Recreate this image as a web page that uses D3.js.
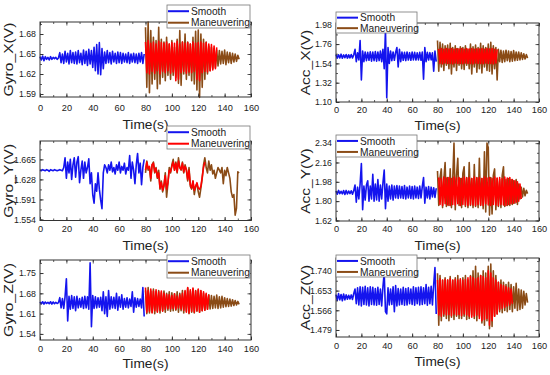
<!DOCTYPE html>
<html><head><meta charset="utf-8">
<script src="https://cdn.jsdelivr.net/npm/d3@7"></script>
<style>
html,body{margin:0;padding:0;background:#fff;}
svg{display:block;font-family:"Liberation Sans",Arial,sans-serif;}
</style></head>
<body><svg id="chart" width="550" height="375"></svg>
<script>
// ---------------- DATA ----------------
const xTicks = [0,20,40,60,80,100,120,140,160];
const seriesNames = ["Smooth","Maneuvering"];

// Gyro_X
const gyroXTicks = [1.59,1.62,1.65,1.68];
const gyroXSmooth = [1.646,1.641,1.647,1.640,1.646,1.642,1.645,1.641,1.646,1.642,1.645,1.643,1.645,1.642,1.644,
1.652,1.637,1.650,1.636,1.654,1.638,1.651,1.635,1.655,1.637,1.652,1.636,1.653,1.635,1.655,1.637,1.651,1.634,1.656,1.636,1.654,1.633,1.657,1.635,1.655,
1.630,1.660,1.625,1.664,1.620,1.667,1.619,1.658,1.628,
1.653,1.636,1.655,1.637,1.652,1.635,1.654,1.638,1.651,1.636,1.653,1.637,1.652,1.636,1.651,1.638,1.650,1.637,1.652,1.636,1.650,1.638,1.651,1.637,1.650,1.636,1.651,1.638,1.652,1.636,1.650];
const gyroXManeuver = [1.690,1.600,1.698,1.592,1.685,1.605,1.675,1.612,1.670,1.598,1.690,1.605,1.672,1.615,1.668,1.610,1.675,1.618,1.665,1.612,
1.670,1.618,1.660,1.615,1.672,1.606,1.685,1.603,1.668,1.620,1.680,1.612,1.668,1.618,1.665,1.610,1.675,1.605,1.684,1.596,
1.686,1.585,1.680,1.600,1.672,1.612,1.668,1.620,1.662,1.625,1.660,1.628,1.658,1.630,1.656,1.632,
1.655,1.635,1.654,1.636,1.656,1.634,1.653,1.637,1.652,1.636,1.651,1.638,1.650,1.639,1.648,1.642];
const gyroXCore = [1.668,1.622,1.670,1.620,1.666,1.624,1.668,1.621,1.665,1.625,1.669,1.620,1.667,1.624,1.666,1.622,1.668,1.625,1.665,1.621,
1.667,1.623,1.666,1.610,1.669,1.612,1.665,1.622,1.668,1.624,1.666,1.621,1.667,1.623,1.665,1.622,1.668,1.624,1.666,1.612,
1.667,1.610,1.668,1.622,1.666,1.624,1.667,1.623,1.665,1.625,1.664,1.626,1.662,1.628,1.660];

// Acc_X
const accXTicks = [1.10,1.32,1.54,1.76,1.98];
const accXSmooth = [1.640,1.600,1.638,1.602,1.645,1.598,1.636,1.604,1.640,1.600,1.637,1.603,1.640,1.601,1.638,
1.700,1.560,1.660,1.580,1.800,1.350,1.680,1.560,1.670,1.570,1.665,1.575,1.672,1.565,1.668,
1.570,1.675,1.565,1.670,1.572,1.680,1.560,1.700,1.480,1.920,1.150,1.720,1.540,1.680,1.570,1.670,1.575,1.665,
1.720,1.500,1.700,1.560,1.668,1.575,1.665,1.572,1.670,1.578,1.662,1.575,1.668,1.580,1.665,1.578,1.660,1.580,1.665,1.575,1.668,1.360,1.720,1.560,1.665,1.578,1.662,1.580,1.660,1.450,1.680,1.560];
const accXManeuver = [1.800,1.450,1.780,1.500,1.760,1.460,1.740,1.520,1.750,1.480,1.770,1.420,1.720,1.500,1.740,1.460,1.710,1.520,1.730,1.480,
1.720,1.470,1.740,1.520,1.700,1.480,1.760,1.420,1.730,1.500,1.750,1.440,1.720,1.480,1.770,1.430,1.740,1.500,1.720,1.460,
1.760,1.450,1.780,1.420,1.740,1.480,1.720,1.350,1.700,1.560,1.690,1.550,1.680,1.560,1.690,1.570,
1.680,1.560,1.675,1.565,1.685,1.570,1.670,1.575,1.668,1.580,1.660,1.585,1.650,1.590,1.640,1.600];
const accXCore = [1.705,1.540,1.710,1.535,1.700,1.545,1.708,1.538,1.702,1.540,1.710,1.535,1.700,1.545,1.706,1.538,1.702,1.540,1.710,1.536,
1.700,1.544,1.708,1.538,1.702,1.540,1.710,1.535,1.700,1.545,1.706,1.538,1.702,1.540,1.710,1.536,1.700,1.544,1.708,1.538,
1.702,1.540,1.710,1.535,1.700,1.545,1.700];

// Gyro_Y
const gyroYTicks = [1.554,1.591,1.628,1.665];
const gyroYSmooth = [1.645,1.644,1.646,1.645,1.644,1.646,1.645,1.643,1.646,1.645,1.644,1.646,1.645,1.644,1.645,1.646,1.645,1.644,
1.650,1.668,1.630,1.660,1.640,1.665,1.628,1.655,1.668,1.632,1.660,1.670,1.622,1.645,1.662,1.630,1.660,1.640,1.650,1.666,1.620,1.640,
1.600,1.584,1.620,1.606,1.640,1.610,1.590,1.574,1.640,1.655,
1.650,1.640,1.655,1.645,1.660,1.642,1.650,1.638,1.655,1.645,1.660,1.640,1.652,1.645,1.658,1.638,1.650,1.645,1.672,1.630,1.660,1.645,1.620,1.655,1.676,1.640,1.658,1.618,1.650,1.665];
const gyroYManeuver = [1.640,1.662,1.645,1.650,1.625,1.655,1.660,1.640,1.650,1.630,1.645,1.610,1.625,1.605,1.615,1.640,1.595,1.620,1.650,1.640,
1.655,1.665,1.645,1.660,1.640,1.668,1.650,1.645,1.660,1.640,1.655,1.645,1.625,1.650,1.615,1.610,1.625,1.600,1.615,1.620,
1.605,1.595,1.612,1.630,1.655,1.668,1.650,1.640,1.662,1.645,1.655,1.638,1.645,1.630,1.640,1.650,
1.645,1.640,1.650,1.620,1.645,1.635,1.650,1.640,1.630,1.605,1.595,1.600,1.562,1.575,1.642,1.640];
const gyroYCore = [1.645,1.660,1.648,1.652,1.630,1.655,1.658,1.642,1.648,1.632,1.640,1.612,1.622,1.608,1.618,1.635,1.610,1.622,1.645,1.642,
1.652,1.660,1.645,1.658,1.642,1.662,1.650,1.646,1.658,1.642,1.652,1.646,1.628,1.645,1.618,1.612,1.625,1.608,1.615,1.622,
1.612,1.610,1.615,1.632,1.650,1.660];

// Acc_Y
const accYTicks = [1.62,1.80,1.98,2.16,2.34];
const accYSmooth = [1.895,1.865,1.900,1.870,1.892,1.868,1.898,1.862,1.900,1.866,1.894,1.870,1.896,1.864,1.898,
1.950,1.790,1.930,1.820,1.960,2.150,1.720,1.940,1.810,1.950,1.990,1.800,1.940,1.820,2.050,
1.800,1.960,1.810,2.000,1.800,1.950,1.820,1.970,2.090,1.730,1.960,1.800,1.940,1.820,1.950,1.810,1.940,1.830,1.945,1.825,
1.940,1.830,1.935,1.825,1.945,1.820,1.930,1.830,1.940,1.825,1.935,1.820,1.940,1.830,1.930,1.825,1.940,1.830,1.935,2.020,1.780,1.930,1.830,1.935,1.820,1.930,1.840,1.925,1.835,1.920];
const accYManeuver = [2.080,1.760,2.020,2.100,1.740,2.000,2.160,1.750,2.020,1.760,2.100,1.740,2.000,2.340,1.720,2.040,2.200,1.760,2.010,1.740,
2.060,2.120,1.750,2.020,1.740,2.160,1.760,2.010,1.740,2.140,1.750,2.020,1.740,2.200,1.760,2.010,1.730,2.260,1.700,2.340,
2.300,1.670,2.020,1.680,2.040,2.100,1.720,2.010,1.750,2.000,1.740,2.040,2.120,1.750,2.000,1.760,
2.010,1.760,2.000,1.770,1.990,1.780,2.000,1.770,1.960,1.820,1.930,1.840,1.920,1.850,1.900,1.870];
const accYCore = [2.020,1.770,2.010,1.760,2.025,1.775,2.015,1.765,2.020,1.760,2.010,1.770,2.025,1.765,2.015,1.775,2.020,1.760,2.010,1.770,
2.025,1.765,2.015,1.760,2.020,1.770,2.010,1.765,2.025,1.760,2.015,1.770,2.020,1.765,2.010,1.760,2.025,1.775,2.015,1.765,
2.020,1.760,2.010,1.770,2.025,1.765,2.015,1.760,2.020,1.770,2.010,1.765,2.025,1.760,2.015,1.770,2.020,1.775,2.000,1.780,
1.990,1.790,1.980,1.800,1.960,1.820];

// Gyro_Z
const gyroZTicks = [1.54,1.61,1.68,1.75];
const gyroZSmooth = [1.650,1.644,1.651,1.643,1.650,1.645,1.649,1.644,1.651,1.643,1.650,1.644,1.649,1.645,1.648,
1.665,1.630,1.662,1.628,1.668,1.730,1.585,1.670,1.625,1.672,1.628,1.668,1.620,1.670,1.630,
1.662,1.632,1.666,1.628,1.670,1.630,1.668,1.625,1.785,1.565,1.672,1.628,1.668,1.630,1.665,1.632,1.666,1.620,1.685,1.610,
1.668,1.600,1.690,1.625,1.668,1.630,1.666,1.628,1.680,1.622,1.668,1.632,1.675,1.625,1.662,1.632,1.665,1.630,1.660,1.635,1.685,1.615,1.665,1.632,1.662,1.635,1.660,1.630,1.700,1.600];
const gyroZManeuver = [1.690,1.610,1.700,1.612,1.688,1.615,1.695,1.610,1.685,1.618,1.690,1.612,1.682,1.620,1.688,1.615,1.680,1.622,1.685,1.618,
1.682,1.620,1.678,1.622,1.685,1.615,1.680,1.620,1.690,1.612,1.685,1.618,1.698,1.610,1.688,1.615,1.695,1.612,1.690,1.618,
1.692,1.615,1.688,1.620,1.680,1.622,1.676,1.625,1.675,1.626,1.672,1.628,1.670,1.630,1.674,1.628,
1.668,1.630,1.670,1.632,1.665,1.634,1.662,1.635,1.660,1.636,1.658,1.638,1.655,1.640,1.652,1.642];
const gyroZCore = [1.700,1.615,1.690,1.618,1.695,1.612,1.688,1.620,1.692,1.615,1.685,1.622,1.688,1.618,1.680,1.625,1.676,1.628,1.675,1.626,
1.672,1.628,1.678,1.625,1.670,1.630,1.675,1.626,1.680,1.622,1.690,1.615,1.700,1.612,1.692,1.618,1.698,1.615,1.688,1.620,
1.695,1.615,1.690,1.620,1.685,1.622,1.680,1.625,1.675];

// Acc_Z
const accZTicks = [1.479,1.566,1.653,1.740];
const accZSmooth = [1.635,1.610,1.640,1.612,1.636,1.608,1.638,1.612,1.634,1.615,1.632,1.616,1.634,1.614,1.640,
1.660,1.595,1.665,1.590,1.670,1.585,1.668,1.592,1.672,1.590,1.665,1.585,1.670,1.592,1.668,
1.590,1.662,1.588,1.668,1.592,1.660,1.585,1.670,1.730,1.560,1.550,1.665,1.590,1.660,1.592,1.670,1.560,1.675,1.585,1.662,
1.590,1.660,1.592,1.668,1.588,1.662,1.590,1.665,1.595,1.660,1.592,1.670,1.588,1.665,1.595,1.668,1.590,1.670,1.592,1.665,1.595,1.680,1.588,1.668,1.595,1.672,1.590,1.680,1.755,1.550];
const accZManeuver = [1.730,1.500,1.720,1.520,1.700,1.540,1.710,1.530,1.700,1.520,1.715,1.535,1.700,1.525,1.710,1.540,1.720,1.530,1.700,1.530,
1.710,1.540,1.720,1.525,1.700,1.530,1.720,1.545,1.740,1.530,1.760,1.520,1.730,1.540,1.720,1.510,1.740,1.500,1.730,1.520,
1.760,1.485,1.770,1.495,1.740,1.540,1.720,1.550,1.690,1.560,1.700,1.555,1.690,1.565,1.680,1.560,
1.690,1.570,1.680,1.560,1.670,1.575,1.685,1.565,1.660,1.570,1.655,1.575,1.650,1.590,1.640,1.600];
const accZCore = [1.700,1.545,1.705,1.540,1.698,1.550,1.702,1.545,1.700,1.548,1.705,1.542,1.698,1.550,1.702,1.545,1.700,1.548,1.705,1.542,
1.698,1.550,1.702,1.545,1.710,1.540,1.715,1.535,1.710,1.540,1.705,1.545,1.710,1.530,1.720,1.520,1.715,1.525,1.710,1.530,
1.740,1.500,1.730,1.520,1.710,1.540,1.700,1.550,1.690,1.570,1.680,1.575,1.675,1.580,1.670,1.585,1.665,1.590,1.660,1.595];

// ---------------- STYLE / LAYOUT ----------------
const BLUE = "#1414ee", BROWN = "#8a4b16", RED = "#ff0000";
const panels = [
  {label:"Gyro_X(V)", smooth:gyroXSmooth, man:gyroXManeuver, core:gyroXCore, coreStart:80, ticks:gyroXTicks, fmt:".2f",
   domain:[1.5855,1.698], f:{x0:40,x1:251,y0:22,y1:97}, lg:{x:167,y:5,w:83,h:23}, manColor:BROWN, titleX:12.5, pad:7.8, timeY:125},
  {label:"Acc_X(V)", smooth:accXSmooth, man:accXManeuver, core:accXCore, coreStart:81, ticks:accXTicks, fmt:".2f",
   domain:[1.10,2.00], f:{x0:336,x1:539,y0:23,y1:102}, lg:{x:336,y:12,w:81,h:21}, manColor:BROWN, titleX:309.5, pad:4.8, timeY:126},
  {label:"Gyro_Y(V)", smooth:gyroYSmooth, man:gyroYManeuver, core:gyroYCore, coreStart:80, ticks:gyroYTicks, fmt:".3f",
   domain:[1.552,1.699], f:{x0:40,x1:251,y0:141,y1:220.5}, lg:{x:167,y:126,w:83,h:23}, manColor:RED, titleX:12.5, pad:4.5, timeY:246},
  {label:"Acc_Y(V)", smooth:accYSmooth, man:accYManeuver, core:accYCore, coreStart:81, ticks:accYTicks, fmt:".2f",
   domain:[1.615,2.36], f:{x0:336,x1:539,y0:141,y1:221}, lg:{x:336,y:135,w:81,h:22}, manColor:BROWN, titleX:309.5, pad:4, timeY:246},
  {label:"Gyro_Z(V)", smooth:gyroZSmooth, man:gyroZManeuver, core:gyroZCore, coreStart:80, ticks:gyroZTicks, fmt:".2f",
   domain:[1.519,1.795], f:{x0:40,x1:251,y0:260,y1:340}, lg:{x:167,y:255,w:83,h:23}, manColor:BROWN, titleX:12.5, pad:5, timeY:364},
  {label:"Acc_Z(V)", smooth:accZSmooth, man:accZManeuver, core:accZCore, coreStart:80, ticks:accZTicks, fmt:".3f",
   domain:[1.448,1.797], f:{x0:336,x1:539,y0:258,y1:337}, lg:{x:336,y:255,w:81,h:22}, manColor:BROWN, titleX:309.5, pad:5.8, timeY:362}
];

const svg = d3.select("#chart");
const TXT = "#222";
const LW = 1.6;

panels.forEach(p => {
  const g = svg.append("g");
  const x = d3.scaleLinear().domain([0,160]).range([p.f.x0,p.f.x1]);
  const y = d3.scaleLinear().domain(p.domain).range([p.f.y1,p.f.y0]);
  const step = p.ticks[1]-p.ticks[0];
  const minorY = [];
  for (let v = p.ticks[0]-step/2; v <= p.domain[1]+1e-9; v += step/2) {
    if (v >= p.domain[0]-1e-9) minorY.push(+v.toFixed(4));
  }
  const minorX = d3.range(0,161,10);

  // lines
  const line = start => d3.line().x((d,i)=>x(start+i)).y(d=>y(d));
  g.append("path").datum(p.smooth).attr("d", line(0)).attr("fill","none").attr("stroke",BLUE).attr("stroke-width",LW).attr("stroke-linejoin","round");
  g.append("path").datum(p.man).attr("d", line(80)).attr("fill","none").attr("stroke",BROWN).attr("stroke-width",LW).attr("stroke-linejoin","round");
  g.append("path").datum(p.core).attr("d", line(p.coreStart)).attr("fill","none").attr("stroke",RED).attr("stroke-width",LW).attr("stroke-linejoin","round");

  // minor ticks (all sides, inward)
  const mk = (axis, scale, vals, size, tx, ty) => {
    const a = g.append("g").attr("transform",`translate(${tx},${ty})`)
      .call(axis(scale).tickValues(vals).tickSize(size).tickFormat(""));
    a.select(".domain").remove();
    a.selectAll("line").attr("stroke","#333").attr("stroke-width",0.8);
    return a;
  };
  mk(d3.axisLeft, y, minorY, -2, p.f.x0, 0);
  mk(d3.axisRight, y, minorY, -2, p.f.x1, 0);
  mk(d3.axisBottom, x, minorX, -2, 0, p.f.y1);
  mk(d3.axisTop, x, minorX, -2, 0, p.f.y0);
  // major ticks with labels
  const ay = g.append("g").attr("transform",`translate(${p.f.x0},0)`)
    .call(d3.axisLeft(y).tickValues(p.ticks).tickSize(-3.5).tickPadding(4).tickFormat(d3.format(p.fmt)));
  ay.select(".domain").remove();
  ay.selectAll("line").attr("stroke","#333");
  ay.selectAll("text").attr("font-size","8.8px").attr("fill",TXT).attr("font-family","Liberation Sans, Arial, sans-serif");
  const ax = g.append("g").attr("transform",`translate(0,${p.f.y1})`)
    .call(d3.axisBottom(x).tickValues(xTicks).tickSize(-3.5).tickPadding(p.pad).tickFormat(d3.format("d")));
  ax.select(".domain").remove();
  ax.selectAll("line").attr("stroke","#333");
  ax.selectAll("text").attr("font-size","9.2px").attr("fill",TXT).attr("font-family","Liberation Sans, Arial, sans-serif");
  mk(d3.axisRight, y, p.ticks, -3.5, p.f.x1, 0);
  mk(d3.axisTop, x, xTicks, -3.5, 0, p.f.y0);

  // frame
  g.append("rect").attr("x",p.f.x0).attr("y",p.f.y0).attr("width",p.f.x1-p.f.x0).attr("height",p.f.y1-p.f.y0)
    .attr("fill","none").attr("stroke","#333").attr("stroke-width",1);

  // axis titles
  g.append("text").attr("x",(p.f.x0+p.f.x1)/2).attr("y",p.timeY+4).attr("text-anchor","middle")
    .attr("font-size","12px").attr("fill",TXT)
    .attr("textLength",46).attr("lengthAdjust","spacingAndGlyphs").text("Time(s)");
  g.append("text").attr("transform",`translate(${p.titleX},${(p.f.y0+p.f.y1)/2}) rotate(-90)`)
    .attr("text-anchor","middle").attr("font-size","12px").attr("fill",TXT)
    .attr("textLength", p.label.length*8.2).attr("lengthAdjust","spacingAndGlyphs").text(p.label);

  // legend
  const lg = g.append("g");
  lg.append("rect").attr("x",p.lg.x).attr("y",p.lg.y).attr("width",p.lg.w).attr("height",p.lg.h)
    .attr("fill","#fff").attr("stroke","#777").attr("stroke-width",0.8);
  const colors = [BLUE, p.manColor];
  seriesNames.forEach((n,i) => {
    const yy = p.lg.y + p.lg.h*(0.27 + 0.5*i);
    lg.append("line").attr("x1",p.lg.x+1).attr("x2",p.lg.x+22).attr("y1",yy).attr("y2",yy)
      .attr("stroke",colors[i]).attr("stroke-width",2);
    lg.append("text").attr("x",p.lg.x+24).attr("y",yy+3.6).attr("font-size","10.2px").attr("fill",TXT).text(n);
  });
});
</script></body></html>
